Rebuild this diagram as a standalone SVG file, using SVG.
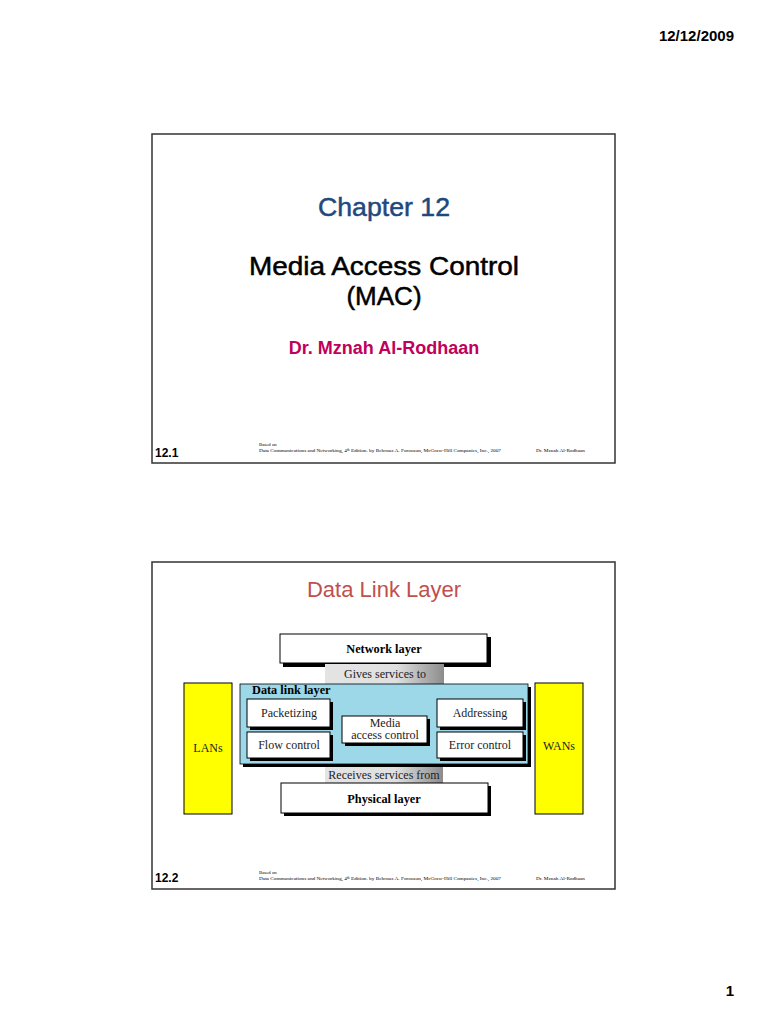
<svg xmlns="http://www.w3.org/2000/svg" width="768" height="1024" viewBox="0 0 768 1024">
<defs>
<linearGradient id="gr" x1="0" y1="0" x2="1" y2="0">
<stop offset="0" stop-color="#e4e4e4"/><stop offset="0.6" stop-color="#e0e0e0"/><stop offset="1" stop-color="#8c8c8c"/>
</linearGradient>
<style>
.slide{fill:#fff;stroke:#333;stroke-width:1.5}
.sans{font-family:"Liberation Sans",Arial,sans-serif}
.serif{font-family:"Liberation Serif","Times New Roman",serif}
.title{font-family:"Liberation Sans",Arial,sans-serif;font-size:26px;stroke-width:0.5}
.box{fill:#fff;stroke:#000;stroke-width:1}
.shadow{fill:#000}
.yel{fill:#ffff00;stroke:#000;stroke-width:1}
.foot{font-family:"Liberation Serif",serif;font-size:4.8px;fill:#000}
.lbl{font-family:"Liberation Serif",serif;font-size:12px;fill:#222}
.hdr{font-family:"Liberation Serif",serif;font-size:12.3px;font-weight:bold;fill:#000}
</style>
</defs>
<rect width="768" height="1024" fill="#fff"/>
<text x="734" y="41" class="sans" font-size="15" font-weight="bold" text-anchor="end">12/12/2009</text>
<text x="734" y="996" class="sans" font-size="15" font-weight="bold" text-anchor="end">1</text>

<g id="slide1">
<rect class="slide" x="152" y="134" width="463" height="329"/>
<text x="318" y="216" class="title" fill="#1f497d" stroke="#1f497d" textLength="132" lengthAdjust="spacingAndGlyphs">Chapter 12</text>
<text x="249" y="275" class="title" fill="#000" stroke="#000" textLength="270" lengthAdjust="spacingAndGlyphs">Media Access Control</text>
<text x="384" y="305" class="title" fill="#000" stroke="#000" text-anchor="middle">(MAC)</text>
<text x="384" y="354" class="sans" font-size="18" font-weight="bold" fill="#c0005a" text-anchor="middle">Dr. Mznah Al-Rodhaan</text>
<text x="155" y="457" class="sans" font-size="12" font-weight="bold">12.1</text>
<text x="259" y="446" class="foot">Based on</text>
<text x="259" y="452" class="foot" textLength="242" lengthAdjust="spacingAndGlyphs">Data Communications and Networking, 4<tspan font-size="3.2" dy="-1.5">th</tspan><tspan dy="1.5"> Edition. by Behrouz A. Forouzan,   McGraw-Hill Companies, Inc., 2007</tspan></text>
<text x="536" y="452" class="foot" textLength="49" lengthAdjust="spacingAndGlyphs">Dr. Mznah Al-Rodhaan</text>
</g>

<g id="slide2">
<rect class="slide" x="152" y="562" width="463" height="327"/>
<text x="384" y="597" class="sans" font-size="22" fill="#c0504d" text-anchor="middle">Data Link Layer</text>
<text x="155" y="882" class="sans" font-size="12" font-weight="bold">12.2</text>
<text x="259" y="874" class="foot">Based on</text>
<text x="259" y="880" class="foot" textLength="242" lengthAdjust="spacingAndGlyphs">Data Communications and Networking, 4<tspan font-size="3.2" dy="-1.5">th</tspan><tspan dy="1.5"> Edition. by Behrouz A. Forouzan,   McGraw-Hill Companies, Inc., 2007</tspan></text>
<text x="536" y="880" class="foot" textLength="49" lengthAdjust="spacingAndGlyphs">Dr. Mznah Al-Rodhaan</text>
</g>

<g id="lans">
<rect class="yel" x="184" y="683" width="48" height="131"/>
<text x="208" y="752" class="lbl" text-anchor="middle">LANs</text>
</g>
<g id="wans">
<rect class="yel" x="535" y="683" width="48" height="131"/>
<text x="559" y="750" class="lbl" text-anchor="middle">WANs</text>
</g>

<g id="network">
<rect class="shadow" x="283" y="637" width="208" height="30"/>
<rect class="box" x="280" y="634" width="207" height="29"/>
<text x="384" y="653" class="hdr" text-anchor="middle">Network layer</text>
</g>
<g id="gives">
<rect x="325" y="664" width="119" height="20" fill="url(#gr)"/>
<text x="385" y="678" class="lbl" text-anchor="middle">Gives services to</text>
</g>

<g id="datalink">
<rect class="shadow" x="243" y="687" width="288" height="80"/>
<rect x="240" y="684" width="288" height="80" fill="#9dd8e8" stroke="#000" stroke-width="0.8"/>
<text x="252" y="694" class="hdr">Data link layer</text>
</g>
<g id="packetizing">
<rect class="shadow" x="250" y="702" width="83" height="28"/>
<rect class="box" x="247" y="699" width="83" height="28"/>
<text x="289" y="717" class="lbl" text-anchor="middle">Packetizing</text>
</g>
<g id="flow">
<rect class="shadow" x="250" y="735" width="83" height="26"/>
<rect class="box" x="247" y="732" width="83" height="26"/>
<text x="289" y="749" class="lbl" text-anchor="middle">Flow control</text>
</g>
<g id="mac">
<rect class="shadow" x="345" y="719" width="85" height="27"/>
<rect class="box" x="342" y="716" width="85" height="27"/>
<text x="385" y="727" class="lbl" text-anchor="middle">Media</text>
<text x="385" y="739" class="lbl" text-anchor="middle">access control</text>
</g>
<g id="addressing">
<rect class="shadow" x="440" y="702" width="86" height="28"/>
<rect class="box" x="437" y="699" width="86" height="28"/>
<text x="480" y="717" class="lbl" text-anchor="middle">Addressing</text>
</g>
<g id="error">
<rect class="shadow" x="440" y="735" width="86" height="26"/>
<rect class="box" x="437" y="732" width="86" height="26"/>
<text x="480" y="749" class="lbl" text-anchor="middle">Error control</text>
</g>

<g id="receives">
<rect x="325" y="767" width="118" height="16" fill="url(#gr)"/>
<text x="384" y="779" class="lbl" text-anchor="middle">Receives services from</text>
</g>
<g id="physical">
<rect class="shadow" x="284" y="786" width="207" height="30"/>
<rect class="box" x="281" y="783" width="207" height="30"/>
<text x="384" y="803" class="hdr" text-anchor="middle">Physical layer</text>
</g>
<g id="connectors"/>
</svg>
